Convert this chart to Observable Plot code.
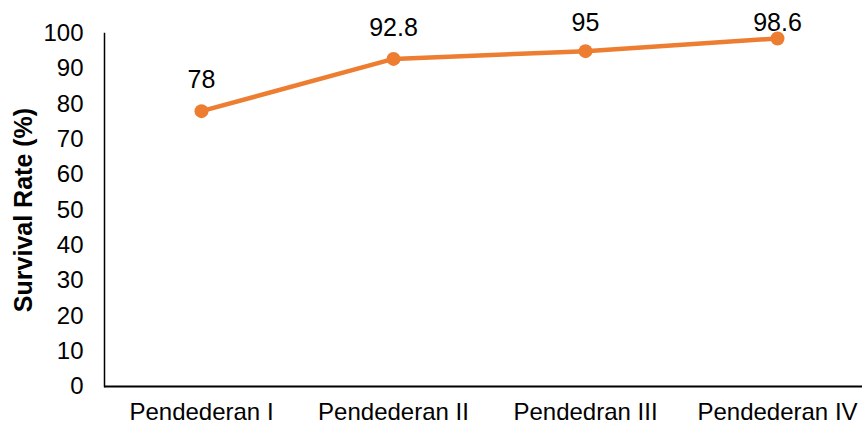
<!DOCTYPE html>
<html>
<head>
<meta charset="utf-8">
<script src="https://cdn.jsdelivr.net/npm/d3@7"></script>
<script src="https://cdn.jsdelivr.net/npm/@observablehq/plot@0.6"></script>
<style>
  html, body { margin: 0; padding: 0; background: #fff; }
  #chart svg { display: block; }
</style>
</head>
<body>
<div id="chart"></div>
<script>
const categories = ["Pendederan I", "Pendederan II", "Pendedran III", "Pendederan IV"];
const survival = [78, 92.8, 95, 98.6];
const yTicks = [0, 10, 20, 30, 40, 50, 60, 70, 80, 90, 100];
const yTitle = "Survival Rate (%)";

const data = categories.map((c, i) => ({category: c, value: survival[i]}));
const orange = "#ED7D31";
const font = "'Liberation Sans', Arial, sans-serif";

const chart = Plot.plot({
  width: 862,
  height: 425,
  marginLeft: 104,
  marginRight: 0,
  marginTop: 33,
  marginBottom: 39,
  style: {fontFamily: font, fontSize: "24px", color: "#000", background: "#fff"},
  x: {type: "point", domain: categories, padding: 0, insetLeft: 96, insetRight: 85},
  y: {domain: [0, 100]},
  marks: [
    Plot.axisY({ticks: yTicks, tickSize: 0, tickPadding: 21, fontSize: 24, label: null}),
    Plot.axisX({tickSize: 0, tickPadding: 16, fontSize: 24, label: null}),
    Plot.frame({anchor: "left", stroke: "#000", strokeWidth: 1.5, strokeOpacity: 1}),
    Plot.ruleY([0], {stroke: "#000", strokeWidth: 2}),
    Plot.line(data, {x: "category", y: "value", stroke: orange, strokeWidth: 4.5}),
    Plot.dot(data, {x: "category", y: "value", r: 7, fill: orange, stroke: "none"}),
    Plot.text(data, {
      x: "category", y: "value", text: d => String(d.value),
      fontSize: 25, fill: "#000", textAnchor: "middle", lineAnchor: "bottom",
      render(index, scales, values, dimensions, context, next) {
        const y = Array.from(values.y, v => Math.max(v - 23, 30));
        return next(index, scales, {...values, y}, dimensions, context);
      }
    }),
    Plot.text([yTitle], {
      frameAnchor: "left", dx: -81, rotate: -90, fontWeight: "bold",
      fontSize: 25, fill: "#000", lineAnchor: "middle", textAnchor: "middle"
    })
  ]
});
document.getElementById("chart").appendChild(chart);
</script>
</body>
</html>
